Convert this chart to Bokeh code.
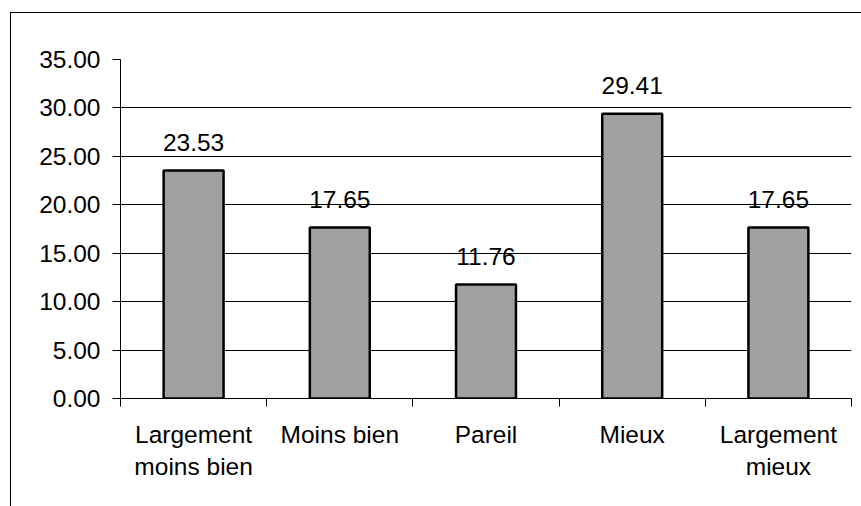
from bokeh.plotting import figure
from bokeh.models import Range1d, FixedTicker, NumeralTickFormatter, ColumnDataSource, LabelSet
from bokeh.core.properties import value
from bokeh.embed import file_html
from bokeh.resources import INLINE

categories = ["Largement\nmoins bien", "Moins bien", "Pareil", "Mieux", "Largement\nmieux"]
values = [23.53, 17.65, 11.76, 29.41, 17.65]
y_ticks = [0, 5, 10, 15, 20, 25, 30, 35]

xpos = [i + 0.5 for i in range(len(categories))]
src = ColumnDataSource(dict(x=xpos, top=values, lab=["%.2f" % v for v in values]))

FONT = "Liberation Sans"
FS = "24.5px"

p = figure(width=851, height=494, output_backend="svg", toolbar_location=None,
           x_range=Range1d(0, len(categories)), y_range=Range1d(0, 35),
           min_border_left=109, min_border_right=11, min_border_top=46, min_border_bottom=109)
p.margin = (12, 0, 0, 10)
p.styles = {"border-left": "1px solid black", "border-top": "1px solid black"}
p.outline_line_color = None
p.background_fill_color = "white"
p.border_fill_color = "white"

p.vbar(x="x", top="top", width=0.41, source=src, fill_color="#A0A0A0",
       line_color="black", line_width=2.5)

labels = LabelSet(x="x", y="top", text="lab", source=src, y_offset=20,
                  text_align="center", text_baseline="alphabetic",
                  text_font=value(FONT), text_font_size=value(FS), text_color="black")
p.add_layout(labels)

# y axis
p.yaxis.ticker = FixedTicker(ticks=y_ticks)
p.yaxis.formatter = NumeralTickFormatter(format="0.00")
p.yaxis.major_tick_out = 8
p.yaxis.major_tick_in = 0
p.yaxis.minor_tick_line_color = None
p.yaxis.major_label_standoff = 12
p.yaxis.major_label_text_font = FONT
p.yaxis.major_label_text_font_size = FS
p.yaxis.major_label_text_color = "black"
p.yaxis.axis_line_color = "black"
p.yaxis.major_tick_line_color = "black"

# x axis
p.xaxis.ticker = FixedTicker(ticks=xpos, minor_ticks=list(range(len(categories) + 1)))
p.xaxis.major_label_overrides = {x: c for x, c in zip(xpos, categories)}
p.xaxis.major_tick_line_color = None
p.xaxis.major_tick_out = 8
p.xaxis.major_tick_in = 0
p.xaxis.minor_tick_line_color = "black"
p.xaxis.minor_tick_out = 8
p.xaxis.minor_tick_in = 0
p.xaxis.major_label_standoff = 14
p.xaxis.major_label_text_font = FONT
p.xaxis.major_label_text_font_size = FS
p.xaxis.major_label_text_color = "black"
p.xaxis.axis_line_color = "black"

p.xgrid.grid_line_color = None
p.ygrid.grid_line_color = "black"
p.ygrid.grid_line_width = 1

open("out.html", "w").write(file_html(p, INLINE))
